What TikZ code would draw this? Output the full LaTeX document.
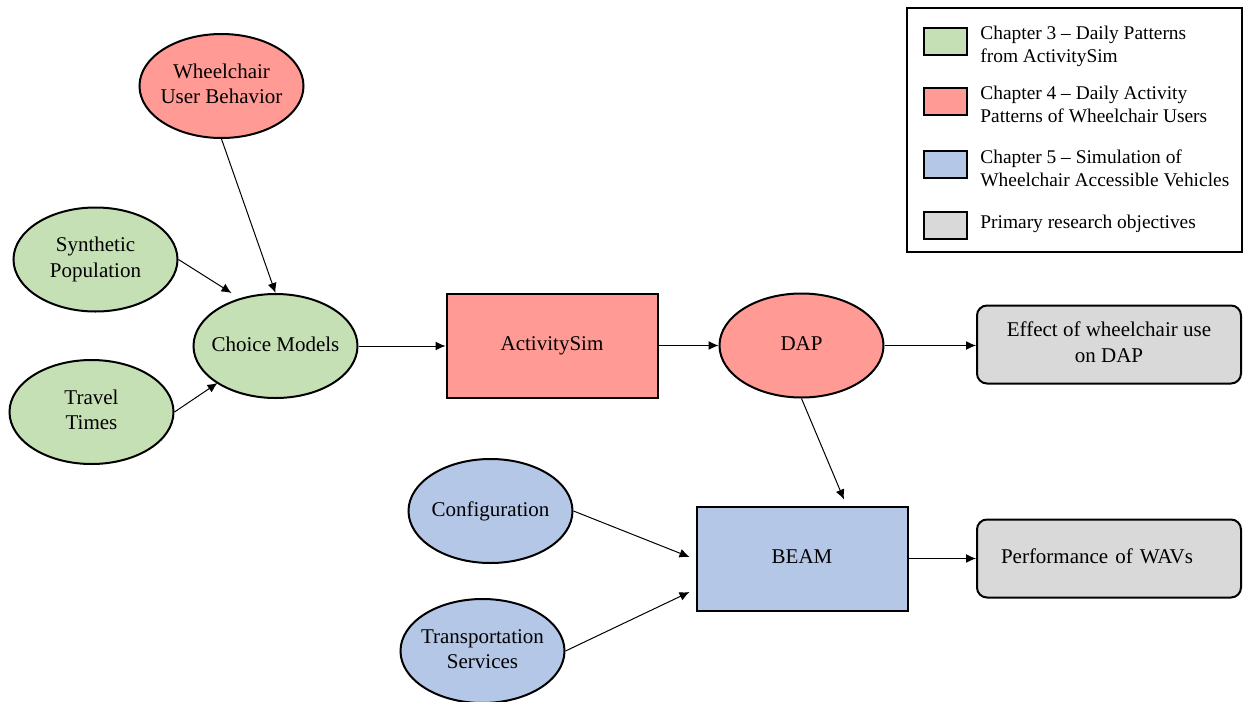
\documentclass[tikz,border=0pt]{standalone}
\usepackage{fontspec}
\setmainfont{Liberation Serif}
\usetikzlibrary{shapes.geometric,arrows.meta,calc}
\definecolor{cgreen}{HTML}{C5E0B4}
\definecolor{cred}{HTML}{FF9A94}
\definecolor{cblue}{HTML}{B4C7E7}
\definecolor{cgray}{HTML}{D9D9D9}
\newcommand\mytxt[1]{\makebox[0pt]{\begin{tabular}{@{}c@{}}#1\end{tabular}}}
\newcommand\legtxt[1]{\begin{tabular}[t]{@{}l@{}}#1\end{tabular}}
\begin{document}
\begin{tikzpicture}[x=0.5pt,y=-0.5pt,
  every node/.style={font=\fontsize{10.5}{12.85}\selectfont, text=black},
  ell/.style={ellipse, draw=black, line width=1pt, minimum width=82pt, minimum height=52pt, inner sep=0pt},
  boxnode/.style={rectangle, draw=black, line width=1pt, minimum width=105.5pt, minimum height=52pt, inner sep=0pt},
  objbox/.style={rectangle, rounded corners=5pt, draw=black, line width=1pt, fill=cgray, minimum width=132pt, minimum height=39pt, inner sep=0pt},
  arr/.style={-{Latex[length=5pt,width=4.5pt]}, line width=0.5pt, draw=black},
  swatch/.style={rectangle, draw=black, line width=1pt, minimum width=21.5pt, minimum height=13.5pt, inner sep=0pt},
  legtext/.style={anchor=base west, inner sep=0pt, font=\fontsize{9.7}{11.65}\selectfont}]
\useasboundingbox (0,0) rectangle (1244,702);
% nodes
\node[ell, fill=cred] (wub) at (221.5,86) {\mytxt{Wheelchair\\User Behavior}};
\node[ell, fill=cgreen] (sp) at (95.5,259.5) {\mytxt{Synthetic\\Population}};
\node[ell, fill=cgreen] (cm) at (275.5,346) {\mytxt{Choice Models}};
\node[ell, fill=cgreen] (tt) at (91.5,412) {\mytxt{Travel\\Times}};
\node[boxnode, fill=cred] (as) at (552,345.5) {\mytxt{ActivitySim}};
\node[ell, fill=cred] (dap) at (801.5,345.5) {\mytxt{DAP}};
\node[objbox] (eff) at (1109,344.5) {\mytxt{Effect of wheelchair use\\on DAP}};
\node[boxnode, fill=cblue] (beam) at (802,558.5) {\mytxt{BEAM}};
\node[ell, fill=cblue] (conf) at (490.5,511) {\mytxt{Configuration}};
\node[ell, fill=cblue] (ts) at (482.5,651) {\mytxt{Transportation\\Services}};
\node[objbox, text width=108pt, inner xsep=12pt, align=left] (perf) at (1109,558.5) {\strut Performance of WAVs};
% legend
\node[draw=black, line width=1pt, minimum width=167.5pt, minimum height=122pt, inner sep=0pt] (leg) at (1074.5,130) {};
\node[swatch, fill=cgreen] (s1) at (945.5,41) {};
\node[swatch, fill=cred] (s2) at (945.5,101.5) {};
\node[swatch, fill=cblue] (s3) at (945.5,164) {};
\node[swatch, fill=cgray] (s4) at (945.5,225.5) {};
\node[legtext] (l1) at (980,39.3) {\legtxt{Chapter 3 – Daily Patterns\\from ActivitySim}};
\node[legtext] (l2) at (980,99.3) {\legtxt{Chapter 4 – Daily Activity\\Patterns of Wheelchair Users}};
\node[legtext] (l3) at (980,163.3) {\legtxt{Chapter 5 – Simulation of\\Wheelchair Accessible Vehicles}};
\node[legtext] (l4) at (980,228.3) {\legtxt{Primary research objectives}};
% connectors
\draw[arr] (wub.south) -- (cm.north);
\draw[arr] (sp.east) -- ($(cm.center)+(-44,-53)$);
\draw[arr] (tt.east) -- ($(cm.center)+(-58,37)$);
\draw[arr] (cm.east) -- (cm.east -| as.west);
\draw[arr] (as.east) -- (as.east -| dap.west);
\draw[arr] (dap.east) -- (dap.east -| eff.west);
\draw[arr] (dap.south) -- ($(beam.north)+(42,-6)$);
\draw[arr] (conf.east) -- ($(beam.west)+(-6,-1.5)$);
\draw[arr] (ts.east) -- ($(beam.west)+(-6,33.5)$);
\draw[arr] (beam.east) -- (beam.east -| perf.west);
\end{tikzpicture}
\end{document}
